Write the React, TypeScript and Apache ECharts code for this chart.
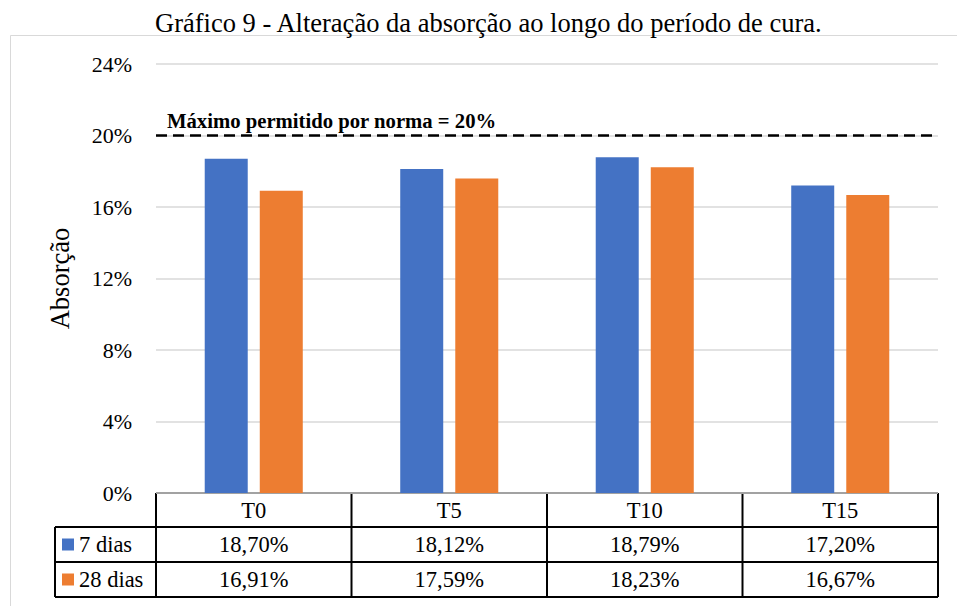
import React, { useEffect, useRef } from "react";
import * as echarts from "echarts";

const categories = ["T0", "T5", "T10", "T15"];
const seriesNames = ["7 dias", "28 dias"];
const dias7 = [0.187, 0.1812, 0.1879, 0.172];
const dias28 = [0.1691, 0.1759, 0.1823, 0.1667];
const limitValue = 0.2;
const limitLabel = "Máximo permitido por norma = 20%";
const titleText = "Gráfico 9 - Alteração da absorção ao longo do período de cura.";
const yAxisName = "Absorção";

const W = 957;
const H = 606;
const GRID_L = 156;
const GRID_R = 938;
const GRID_T = 64;
const GRID_B = 493;
const ROWS = [493, 527, 562, 597];
const TABLE_L = 55;
const FONT = "Liberation Serif";

const fmt = (v: number) => (v * 100).toFixed(2).replace(".", ",") + "%";

export default function App() {
  const ref = useRef<HTMLDivElement>(null);
  useEffect(() => {
    if (!ref.current) return;
    const chart = echarts.init(ref.current, undefined, { renderer: "svg" });
    const colW = (GRID_R - GRID_L) / categories.length;
    const lines: any[] = [];
    const ls = { stroke: "#000", lineWidth: 2 };
    lines.push({ type: "line", shape: { x1: GRID_L, y1: ROWS[0], x2: GRID_R, y2: ROWS[0] }, style: ls });
    for (let i = 1; i < ROWS.length; i++) {
      lines.push({ type: "line", shape: { x1: TABLE_L, y1: ROWS[i], x2: GRID_R, y2: ROWS[i] }, style: ls });
    }
    lines.push({ type: "line", shape: { x1: TABLE_L, y1: ROWS[1], x2: TABLE_L, y2: ROWS[3] }, style: ls });
    for (let i = 0; i <= categories.length; i++) {
      const x = GRID_L + i * colW;
      lines.push({ type: "line", shape: { x1: x, y1: ROWS[0], x2: x, y2: ROWS[3] }, style: ls });
    }

    chart.setOption({
      animation: false,
      backgroundColor: "#fff",
      textStyle: { fontFamily: FONT },
      title: {
        text: titleText,
        left: 155,
        top: 9,
        padding: 0,
        textStyle: { fontFamily: FONT, fontSize: 26.5, fontWeight: "normal", color: "#000" },
      },
      legend: {
        orient: "vertical",
        left: 62,
        top: ROWS[1],
        padding: 0,
        itemGap: 0,
        itemWidth: 12,
        itemHeight: 12,
        icon: "rect",
        selectedMode: false,
        data: seriesNames,
        textStyle: { fontFamily: FONT, fontSize: 22.5, color: "#000", lineHeight: 35, height: 35 },
      },
      grid: { left: GRID_L, right: W - GRID_R, top: GRID_T, bottom: H - GRID_B, containLabel: false },
      xAxis: {
        type: "category",
        data: categories,
        axisLine: { show: false },
        axisTick: { show: false },
        axisLabel: {
          margin: 0,
          fontFamily: FONT,
          fontSize: 22.5,
          color: "#000",
          lineHeight: 34.5,
          formatter: (v: string, i: number) => [v, fmt(dias7[i]), fmt(dias28[i])].join("\n"),
        },
      },
      yAxis: {
        type: "value",
        min: 0,
        max: 0.24,
        interval: 0.04,
        name: yAxisName,
        nameLocation: "middle",
        nameGap: 83,
        nameTextStyle: { fontFamily: FONT, fontSize: 26.5, color: "#000" },
        axisLine: { show: false },
        axisTick: { show: false },
        axisLabel: {
          margin: 24,
          fontFamily: FONT,
          fontSize: 22,
          color: "#000",
          formatter: (v: number) => Math.round(v * 100) + "%",
        },
        splitLine: { lineStyle: { color: "#d9d9d9", width: 1.5 } },
      },
      series: [
        {
          name: seriesNames[0],
          type: "bar",
          data: dias7,
          barWidth: 43,
          barGap: "28%",
          itemStyle: { color: "#4472C4" },
          markLine: {
            silent: true,
            symbol: "none",
            data: [{ yAxis: limitValue }],
            lineStyle: { color: "#000", type: [11, 6], width: 2.5 },
            label: {
              show: true,
              position: "insideStartTop",
              formatter: limitLabel,
              distance: [11, 4],
              fontFamily: FONT,
              fontSize: 20.7,
              fontWeight: "bold",
              color: "#000",
            },
          },
        },
        {
          name: seriesNames[1],
          type: "bar",
          data: dias28,
          barWidth: 43,
          itemStyle: { color: "#ED7D31" },
        },
      ],
      graphic: [
        {
          type: "polyline",
          shape: { points: [[10.5, H], [10.5, 35.5], [W, 35.5]] },
          style: { stroke: "#d9d9d9", lineWidth: 1, fill: "none" },
          silent: true,
        },
        ...lines,
      ],
    });
    return () => chart.dispose();
  }, []);
  return <div ref={ref} style={{ position: "absolute", left: 0, top: 0, width: W, height: H }} />;
}
